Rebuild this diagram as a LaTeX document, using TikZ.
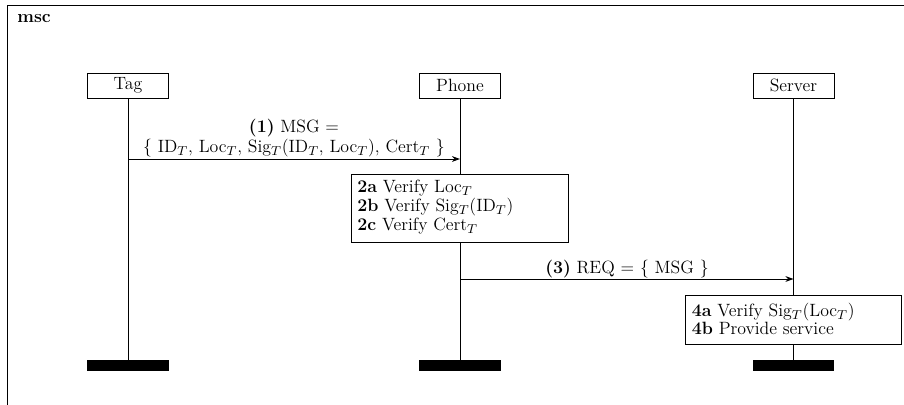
\documentclass[tikz,border=0pt]{standalone}
\usetikzlibrary{arrows.meta}
\begin{document}
\begin{tikzpicture}[x=0.6184pt,y=-0.6184pt,
  every node/.style={font=\fontsize{11pt}{13pt}\selectfont},
  inst/.style={draw,line width=0.6pt,minimum width=50.1pt,minimum height=15.46pt,inner sep=0pt},
  bar/.style={fill=black,minimum width=50.1pt,minimum height=6.8pt,inner sep=0pt},
  life/.style={line width=0.6pt},
  msg/.style={line width=0.6pt,-{Stealth[length=5pt,width=3.6pt]}},
  act/.style={draw,fill=white,line width=0.6pt,inner sep=0pt},
  lbl/.style={anchor=base,inner sep=0pt},
  lbll/.style={anchor=base west,inner sep=0pt}]
\useasboundingbox (0,0) rectangle (904,405);
% frame
\coordinate (ftl) at (7.5,5);
\coordinate (ftr) at (904,5);
\coordinate (fbl) at (7.5,405);
\draw[line width=0.6pt] (ftr) -- (ftl) -- (fbl);
\node[lbll,font=\fontsize{11pt}{13pt}\selectfont\bfseries] (msc) at (17,22.5) {msc};
% instances
\node[inst] (tag) at (128,85.5) {Tag};
\node[inst] (phone) at (460,85.5) {Phone};
\node[inst] (server) at (793.5,85.5) {Server};
\node[bar] (tagend) at (128,365.5) {};
\node[bar] (phoneend) at (460,365.5) {};
\node[bar] (serverend) at (793.5,365.5) {};
\draw[life] (tag.south) -- (tagend.north);
\draw[life] (phone.south) -- (phoneend.north);
\draw[life] (server.south) -- (serverend.north);
% message 1
\coordinate (m1s) at (128,159);
\coordinate (m1e) at (460,159);
\draw[msg] (m1s) -- (m1e);
\node[lbl] (m1a) at (294,132.7) {\textbf{(1)} MSG =};
\node[lbl] (m1b) at (294,152.3) {\{ ID$_T$, Loc$_T$, Sig$_T$(ID$_T$, Loc$_T$), Cert$_T$ \}};
% action box 2
\node[act,minimum width=133.6pt,minimum height=42.05pt] (box2) at (460,208) {};
\node[lbll] (t2a) at (357,192.3) {\textbf{2a} Verify Loc$_T$};
\node[lbll] (t2b) at (357,211.7) {\textbf{2b} Verify Sig$_T$(ID$_T$)};
\node[lbll] (t2c) at (357,231) {\textbf{2c} Verify Cert$_T$};
% message 3
\coordinate (m3s) at (460,279);
\coordinate (m3e) at (793.5,279);
\draw[msg] (m3s) -- (m3e);
\node[lbl] (m3a) at (627,274) {\textbf{(3)} REQ = \{ MSG \}};
% action box 4
\node[act,minimum width=133pt,minimum height=30.3pt] (box4) at (793.5,319.5) {};
\node[lbll] (t4a) at (691.5,316.7) {\textbf{4a} Verify Sig$_T$(Loc$_T$)};
\node[lbll] (t4b) at (691.5,335) {\textbf{4b} Provide service};
\end{tikzpicture}
\end{document}
